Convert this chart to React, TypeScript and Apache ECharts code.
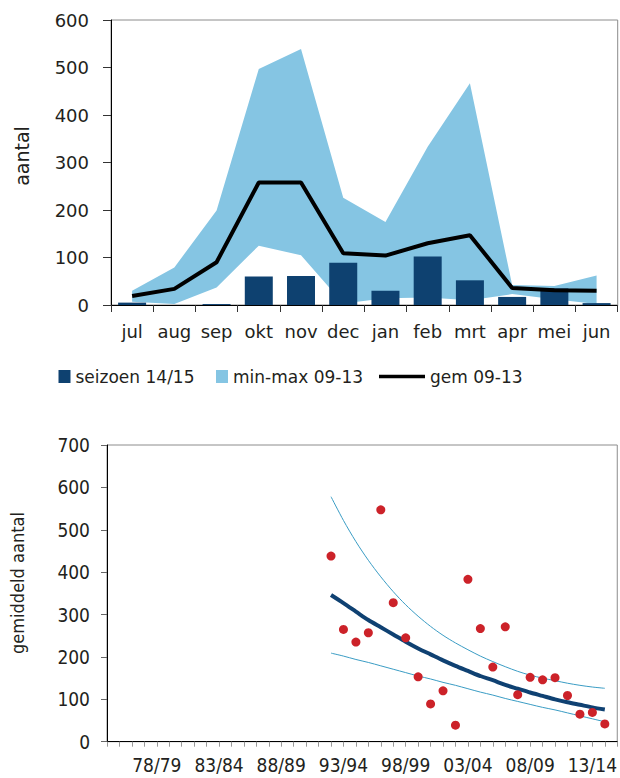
import React, { useEffect, useRef } from "react";
import * as echarts from "echarts";

// ---------- top chart data ----------
const months = ["jul", "aug", "sep", "okt", "nov", "dec", "jan", "feb", "mrt", "apr", "mei", "jun"];
const season1415 = [5, 0, 2, 60, 61, 89, 30, 102, 52, 17, 35, 4];
const minBand0913 = [7, 2, 37, 125, 105, 3, 14, 16, 10, 23, 12, 2];
const maxBand0913 = [30, 79, 199, 497, 539, 226, 175, 333, 467, 42, 40, 62];
const mean0913 = [19, 34, 90, 258, 258, 109, 104, 130, 147, 36, 31, 30];
const topTicks = { min: 0, max: 600, interval: 100 };

// ---------- bottom chart data ----------
const allSeasons = [
  "74/75", "75/76", "76/77", "77/78", "78/79", "79/80", "80/81", "81/82", "82/83", "83/84",
  "84/85", "85/86", "86/87", "87/88", "88/89", "89/90", "90/91", "91/92", "92/93", "93/94",
  "94/95", "95/96", "96/97", "97/98", "98/99", "99/00", "00/01", "01/02", "02/03", "03/04",
  "04/05", "05/06", "06/07", "07/08", "08/09", "09/10", "10/11", "11/12", "12/13", "13/14",
  "14/15", "15/16",
];
const countedSeasons = [
  "92/93", "93/94", "94/95", "95/96", "96/97", "97/98", "98/99", "99/00", "00/01", "01/02",
  "02/03", "03/04", "04/05", "05/06", "06/07", "07/08", "08/09", "09/10", "10/11", "11/12",
  "12/13", "13/14", "14/15",
];
const meanCounts = [438, 265, 235, 257, 547, 328, 245, 153, 89, 120, 39, 383, 267, 176, 271, 111, 152, 146, 151, 109, 65, 69, 42];
const trendLine = [346, 327, 307, 287, 270, 253, 236, 220, 206, 192, 179, 167, 155, 145, 134, 125, 116, 108, 100, 93, 87, 81, 76];
const upperBound = [578, 522, 472, 428, 389, 354, 323, 296, 272, 251, 233, 217, 202, 189, 177, 166, 157, 150, 144, 138, 133, 129, 126];
const lowerBound = [209, 202, 194, 187, 179, 171, 163, 155, 148, 140, 133, 125, 117, 110, 102, 95, 88, 81, 75, 68, 61, 54, 47];
const bottomTicks = { min: 0, max: 700, interval: 100 };

const FONT_TOP = "'DejaVu Sans', Verdana, sans-serif";
const FONT_BOT = "'DejaVu Sans Condensed', 'DejaVu Sans', sans-serif";
const TXT = "#231f20";
const BAR = "#0e4170";
const BAND = "#85c5e3";
const RED = "#cc2229";
const TREND = "#0f4172";
const THIN = "#3a9cc4";

export default function App() {
  const ref = useRef<HTMLDivElement>(null);
  useEffect(() => {
    if (!ref.current) return;
    const chart = echarts.init(ref.current, undefined, { renderer: "svg" });
    const bandDiff = maxBand0913.map((v, i) => v - minBand0913[i]);
    const pair = (arr: number[]) => arr.map((v, i) => [countedSeasons[i], v]);
    const legendText = { fontFamily: FONT_TOP, fontSize: 17, color: TXT };

    chart.setOption({
      animation: false,
      grid: [
        { left: 111, top: 20, right: 2.3, height: 285, show: true, borderColor: "#8c8c8c", borderWidth: 1 },
        { left: 107, top: 445, right: -1.6, height: 296.7, show: true, borderColor: "#8c8c8c", borderWidth: 1 },
      ],
      legend: [
        {
          data: [{ name: "seizoen 14/15", icon: "rect", itemStyle: { color: BAR } }],
          left: 58.5, top: 368, padding: 0, itemWidth: 12, itemHeight: 13,
          textStyle: legendText, selectedMode: false,
        },
        {
          data: [{ name: "min-max 09-13", icon: "rect", itemStyle: { color: BAND } }],
          left: 216, top: 368, padding: 0, itemWidth: 12, itemHeight: 13,
          textStyle: legendText, selectedMode: false,
        },
        {
          data: [{ name: "gem 09-13", icon: "rect", itemStyle: { color: "#000" } }],
          left: 379, top: 368, padding: 0, itemWidth: 46, itemHeight: 3.5,
          textStyle: legendText, selectedMode: false,
        },
      ],
      xAxis: [
        {
          gridIndex: 0, type: "category", data: months, boundaryGap: true,
          axisLine: { show: true, lineStyle: { color: "#000", width: 1 } },
          axisTick: { show: true, length: 7, lineStyle: { color: "#333" } },
          axisLabel: { fontFamily: FONT_TOP, fontSize: 18, color: TXT, margin: 17, interval: 0 },
          splitLine: { show: false },
        },
        {
          gridIndex: 1, type: "category", data: allSeasons, boundaryGap: false,
          axisLine: { show: true, lineStyle: { color: "#000", width: 1 } },
          axisTick: { show: true, length: 5, interval: 0, lineStyle: { color: "#999" } },
          axisLabel: {
            fontFamily: FONT_BOT, fontSize: 19, color: TXT, margin: 14,
            interval: (i: number) => i % 5 === 4,
          },
          splitLine: { show: false },
        },
      ],
      yAxis: [
        {
          gridIndex: 0, type: "value", ...topTicks,
          axisLine: { show: true, lineStyle: { color: "#000", width: 1 } },
          axisTick: { show: true, length: 8, lineStyle: { color: "#333" } },
          axisLabel: { fontFamily: FONT_TOP, fontSize: 18, color: TXT, margin: 22 },
          splitLine: { show: false },
        },
        {
          gridIndex: 1, type: "value", ...bottomTicks,
          axisLine: { show: true, lineStyle: { color: "#000", width: 1 } },
          axisTick: { show: true, length: 6, lineStyle: { color: "#666" } },
          axisLabel: { fontFamily: FONT_BOT, fontSize: 19, color: TXT, margin: 17 },
          splitLine: { show: false },
        },
      ],
      graphic: [
        {
          type: "text", x: 22, y: 156, rotation: Math.PI / 2,
          style: { text: "aantal", fontFamily: FONT_TOP, fontSize: 19, fill: TXT, textAlign: "center", textVerticalAlign: "middle" },
        },
        {
          type: "text", x: 17, y: 583, rotation: Math.PI / 2,
          style: { text: "gemiddeld aantal", fontFamily: FONT_BOT, fontSize: 18, fill: TXT, textAlign: "center", textVerticalAlign: "middle" },
        },
      ],
      series: [
        {
          name: "min-base", type: "line", xAxisIndex: 0, yAxisIndex: 0, stack: "band",
          data: minBand0913, symbol: "none", lineStyle: { width: 0, opacity: 0 }, z: 1, silent: true,
        },
        {
          name: "min-max 09-13", type: "line", xAxisIndex: 0, yAxisIndex: 0, stack: "band",
          data: bandDiff, symbol: "none", color: BAND, itemStyle: { color: BAND },
          lineStyle: { width: 0, opacity: 0 }, areaStyle: { color: BAND, opacity: 1 }, z: 1, silent: true,
        },
        {
          name: "seizoen 14/15", type: "bar", xAxisIndex: 0, yAxisIndex: 0,
          data: season1415, barWidth: 28, itemStyle: { color: BAR }, color: BAR, z: 2, silent: true,
        },
        {
          name: "gem 09-13", type: "line", xAxisIndex: 0, yAxisIndex: 0,
          data: mean0913, symbol: "none", showSymbol: false, color: "#000",
          lineStyle: { color: "#000", width: 4 }, z: 3, silent: true,
        },
        {
          name: "upper", type: "line", xAxisIndex: 1, yAxisIndex: 1, data: pair(upperBound),
          symbol: "none", smooth: 0.3, lineStyle: { color: THIN, width: 1 }, z: 2, silent: true,
        },
        {
          name: "lower", type: "line", xAxisIndex: 1, yAxisIndex: 1, data: pair(lowerBound),
          symbol: "none", smooth: 0.3, lineStyle: { color: THIN, width: 1 }, z: 2, silent: true,
        },
        {
          name: "trend", type: "line", xAxisIndex: 1, yAxisIndex: 1, data: pair(trendLine),
          symbol: "none", smooth: 0.3, lineStyle: { color: TREND, width: 4 }, z: 3, silent: true,
        },
        {
          name: "gemiddeld", type: "scatter", xAxisIndex: 1, yAxisIndex: 1, data: pair(meanCounts),
          symbolSize: 9, itemStyle: { color: RED, opacity: 1 }, z: 4, silent: true,
        },
      ],
    });
    return () => chart.dispose();
  }, []);
  return <div ref={ref} style={{ position: "absolute", left: 0, top: 0, width: 620, height: 778 }} />;
}
